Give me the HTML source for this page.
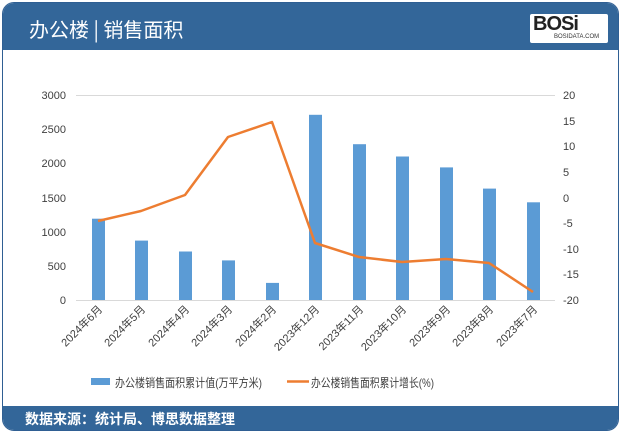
<!DOCTYPE html>
<html><head><meta charset="utf-8"><style>
body{margin:0;width:621px;height:433px;background:#fff;overflow:hidden;font-family:"Liberation Sans","Noto Sans CJK SC",sans-serif}
.frame{position:absolute;left:2px;top:2px;width:615px;height:427px;border:1px solid #2f5f93;border-radius:12px;overflow:hidden;background:#fff}
.hdr{position:absolute;left:0;top:0;width:100%;height:47px;background:#336699}
.ftr{position:absolute;left:0;bottom:0;width:100%;height:24px;background:#336699}
</style></head><body>
<div class="frame">
<div class="hdr"><div style="position:absolute;left:26px;top:11px;color:#fff;font-size:20px;font-family:'Noto Sans CJK SC',sans-serif">办公楼 | 销售面积</div>
<div style="position:absolute;left:527px;top:11px;width:78px;height:29px;background:#fff;border-radius:2px">
<div style="position:absolute;left:3px;top:-1px;font:900 20px 'Liberation Sans',sans-serif;color:#222;letter-spacing:-1px">BOSi</div>
<div style="position:absolute;left:24px;top:20px;font:6px 'Liberation Sans',sans-serif;color:#333">BOSIDATA.COM</div></div></div>
<div class="ftr"><div style="position:absolute;left:22px;top:3px;color:#fff;font-size:14px;font-weight:bold;font-family:'Noto Sans CJK SC',sans-serif">数据来源：统计局、博思数据整理</div></div>
</div>
<svg width="621" height="433" style="position:absolute;left:0;top:0" font-family="Liberation Sans, Noto Sans CJK SC, sans-serif">
<g stroke="#d9d9d9" stroke-width="1">
<line x1="76" y1="95.5" x2="555" y2="95.5"/><line x1="76" y1="300.5" x2="555" y2="300.5"/>
</g>
<g font-size="11" fill="#404040" text-anchor="end">
<text x="66" y="99">3000</text><text x="66" y="133">2500</text><text x="66" y="167">2000</text><text x="66" y="202">1500</text><text x="66" y="236">1000</text><text x="66" y="270">500</text><text x="66" y="304">0</text>
</g>
<g font-size="11" fill="#404040" text-anchor="start">
<text x="563" y="99">20</text><text x="563" y="125">15</text><text x="563" y="150">10</text><text x="563" y="176">5</text><text x="563" y="202">0</text><text x="563" y="227">-5</text><text x="563" y="253">-10</text><text x="563" y="278">-15</text><text x="563" y="304">-20</text>
</g>
<g fill="#5b9bd5">
<rect x="92" y="218.7" width="13" height="81.3"/>
<rect x="135" y="240.6" width="13" height="59.4"/>
<rect x="179" y="251.5" width="13" height="48.5"/>
<rect x="222" y="260.4" width="13" height="39.6"/>
<rect x="266" y="282.9" width="13" height="17.1"/>
<rect x="309" y="114.8" width="13" height="185.2"/>
<rect x="353" y="144.2" width="13" height="155.8"/>
<rect x="396" y="156.5" width="13" height="143.5"/>
<rect x="440" y="167.4" width="13" height="132.6"/>
<rect x="483" y="188.6" width="13" height="111.4"/>
<rect x="527" y="202.3" width="13" height="97.7"/>
</g>
<polyline fill="none" stroke="#ed7d31" stroke-width="2.5" stroke-linejoin="round" points="98,221 141,211 185,195 228,137 272,122 315,243 359,257 402,262 446,259 489,263 533,292"/>
<g font-size="11" fill="#404040" text-anchor="end">
<text transform="translate(103,310) rotate(-45)">2024年6月</text>
<text transform="translate(146,310) rotate(-45)">2024年5月</text>
<text transform="translate(190,310) rotate(-45)">2024年4月</text>
<text transform="translate(233,310) rotate(-45)">2024年3月</text>
<text transform="translate(277,310) rotate(-45)">2024年2月</text>
<text transform="translate(320,310) rotate(-45)">2023年12月</text>
<text transform="translate(364,310) rotate(-45)">2023年11月</text>
<text transform="translate(407,310) rotate(-45)">2023年10月</text>
<text transform="translate(451,310) rotate(-45)">2023年9月</text>
<text transform="translate(494,310) rotate(-45)">2023年8月</text>
<text transform="translate(538,310) rotate(-45)">2023年7月</text>
</g>
<rect x="91" y="378" width="19" height="7" fill="#5b9bd5"/>
<text x="115" y="387" font-size="12" fill="#404040" textLength="147" lengthAdjust="spacingAndGlyphs">办公楼销售面积累计值(万平方米)</text>
<line x1="287" y1="381.5" x2="309" y2="381.5" stroke="#ed7d31" stroke-width="2.5"/>
<text x="311" y="387" font-size="12" fill="#404040" textLength="123" lengthAdjust="spacingAndGlyphs">办公楼销售面积累计增长(%)</text>
</svg>
</body></html>
